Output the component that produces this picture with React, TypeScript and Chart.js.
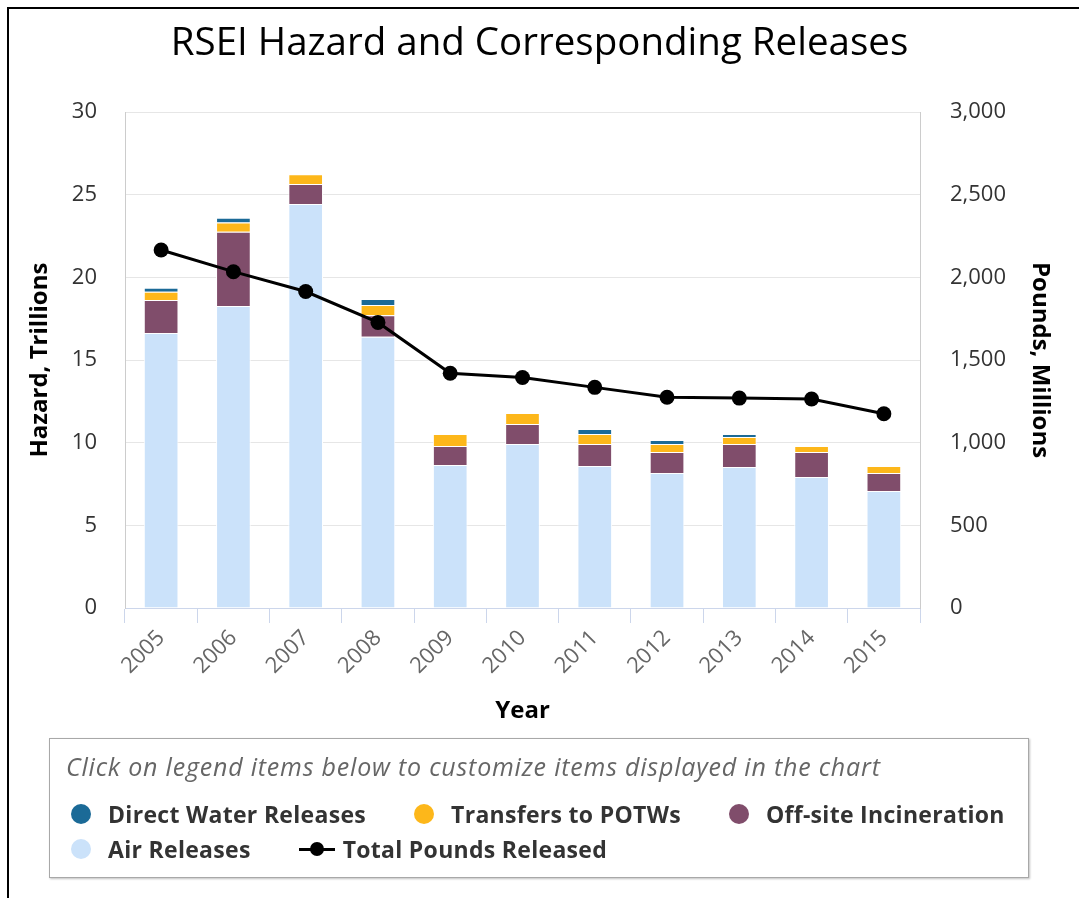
import React, { useEffect, useRef } from 'react';
import { Chart, registerables } from 'chart.js';

Chart.register(...registerables);

const years = ['2005', '2006', '2007', '2008', '2009', '2010', '2011', '2012', '2013', '2014', '2015'];
// Hazard, trillions (stacked, bottom to top)
const airReleases = [16.64, 18.27, 24.44, 16.41, 8.65, 9.92, 8.59, 8.17, 8.53, 7.92, 7.08];
const offsiteIncineration = [1.99, 4.5, 1.21, 1.31, 1.15, 1.21, 1.33, 1.27, 1.39, 1.52, 1.09];
const transfersToPOTWs = [0.5, 0.56, 0.6, 0.61, 0.73, 0.67, 0.61, 0.48, 0.42, 0.36, 0.42];
const directWaterReleases = [0.25, 0.28, 0, 0.36, 0, 0, 0.3, 0.24, 0.19, 0, 0];
// Pounds, millions
const totalPoundsReleased = [2166, 2035, 1915, 1728, 1420, 1395, 1335, 1275, 1270, 1265, 1175];

const hazardTicks = { min: 0, max: 30, step: 5 };
const poundsTicks = { min: 0, max: 3000, step: 500 };

const COLORS = {
  water: '#1b6a97',
  potw: '#fdb71a',
  incineration: '#804d6b',
  air: '#cbe2fa',
  total: '#000000',
};

const FONT = "'Open Sans', 'DejaVu Sans', sans-serif";

const legendRow1 = [
  { label: 'Direct Water Releases', color: COLORS.water, kind: 'dot' },
  { label: 'Transfers to POTWs', color: COLORS.potw, kind: 'dot' },
  { label: 'Off-site Incineration', color: COLORS.incineration, kind: 'dot' },
];
const legendRow2 = [
  { label: 'Air Releases', color: COLORS.air, kind: 'dot' },
  { label: 'Total Pounds Released', color: COLORS.total, kind: 'line' },
];

function LegendItem({ item }: { item: { label: string; color: string; kind: string } }) {
  return (
    <div style={{ display: 'flex', flex: '0 0 auto', alignItems: 'center', marginRight: 48, height: 34 }}>
      {item.kind === 'dot' ? (
        <span
          style={{
            display: 'inline-block',
            width: 20,
            height: 20,
            borderRadius: '50%',
            background: item.color,
            marginRight: 17,
          }}
        />
      ) : (
        <span style={{ position: 'relative', display: 'inline-block', width: 36, height: 20, marginRight: 8 }}>
          <span
            style={{ position: 'absolute', left: 0, right: 0, top: 8.5, height: 3, background: item.color }}
          />
          <span
            style={{
              position: 'absolute',
              left: 11,
              top: 3,
              width: 14,
              height: 14,
              borderRadius: '50%',
              background: item.color,
            }}
          />
        </span>
      )}
      <span
        style={{
          fontFamily: FONT,
          fontWeight: 700,
          fontSize: 23,
          letterSpacing: 0.3,
          color: '#333',
          whiteSpace: 'nowrap',
        }}
      >
        {item.label}
      </span>
    </div>
  );
}

export default function App() {
  const canvasRef = useRef<HTMLCanvasElement | null>(null);

  useEffect(() => {
    document.body.style.margin = '0';
    const canvas = canvasRef.current;
    if (!canvas) return;
    const chart = new Chart(canvas, {
      type: 'bar',
      data: {
        labels: years,
        datasets: [
          {
            type: 'line',
            label: 'Total Pounds Released',
            data: totalPoundsReleased,
            yAxisID: 'y1',
            borderColor: COLORS.total,
            backgroundColor: COLORS.total,
            borderWidth: 3,
            pointRadius: 7.5,
            pointBackgroundColor: COLORS.total,
            pointBorderWidth: 0,
            tension: 0,
            order: 0,
          } as any,
          {
            label: 'Air Releases',
            data: airReleases,
            backgroundColor: COLORS.air,
            borderColor: '#ffffff',
            borderWidth: 1,
            yAxisID: 'y',
            order: 1,
          },
          {
            label: 'Off-site Incineration',
            data: offsiteIncineration,
            backgroundColor: COLORS.incineration,
            borderColor: '#ffffff',
            borderWidth: 1,
            yAxisID: 'y',
            order: 1,
          },
          {
            label: 'Transfers to POTWs',
            data: transfersToPOTWs,
            backgroundColor: COLORS.potw,
            borderColor: '#ffffff',
            borderWidth: 1,
            yAxisID: 'y',
            order: 1,
          },
          {
            label: 'Direct Water Releases',
            data: directWaterReleases,
            backgroundColor: COLORS.water,
            borderColor: '#ffffff',
            borderWidth: 1,
            yAxisID: 'y',
            order: 1,
          },
        ],
      },
      options: {
        animation: false,
        responsive: false,
        devicePixelRatio: 1,
        layout: { padding: { left: 0, right: 0, top: 0, bottom: 170 } },
        datasets: { bar: { barPercentage: 0.48, categoryPercentage: 1 } },
        plugins: {
          legend: { display: false },
          tooltip: { enabled: false },
          title: {
            display: true,
            text: 'RSEI Hazard and Corresponding Releases',
            color: '#000',
            font: { family: FONT, size: 38.5, weight: 'normal' },
            padding: { top: 21, bottom: 45 },
          },
        },
        scales: {
          x: {
            stacked: true,
            offset: true,
            grid: {
              offset: true,
              drawOnChartArea: false,
              drawTicks: true,
              tickLength: 15,
              color: '#ccd6eb',
            },
            border: { color: '#ccd6eb' },
            ticks: {
              minRotation: 45,
              maxRotation: 45,
              padding: 2,
              color: '#666',
              font: { family: FONT, size: 22 },
            },
            title: {
              display: true,
              text: 'Year',
              color: '#000',
              font: { family: FONT, size: 24, weight: 'bold' },
              padding: { top: 0, bottom: 2 },
            },
            afterFit: (s: any) => {
              s.height = 120;
            },
          },
          y: {
            stacked: true,
            position: 'left',
            min: hazardTicks.min,
            max: hazardTicks.max,
            ticks: {
              stepSize: hazardTicks.step,
              padding: 28,
              color: '#333',
              font: { family: FONT, size: 22 },
            },
            grid: { color: '#e6e6e6', drawTicks: false },
            border: { color: '#cccccc' },
            title: {
              display: true,
              text: 'Hazard, Trillions',
              color: '#000',
              font: { family: FONT, size: 24, weight: 'bold' },
              padding: { top: 25.5, bottom: 0 },
            },
            afterFit: (s: any) => {
              s.width = 125;
            },
          },
          y1: {
            position: 'right',
            min: poundsTicks.min,
            max: poundsTicks.max,
            ticks: {
              stepSize: poundsTicks.step,
              padding: 30,
              color: '#333',
              font: { family: FONT, size: 22 },
            },
            grid: { drawOnChartArea: false, drawTicks: false },
            border: { color: '#cccccc' },
            title: {
              display: true,
              text: 'Pounds, Millions',
              color: '#000',
              font: { family: FONT, size: 24, weight: 'bold' },
              padding: { top: 24.5, bottom: 0 },
            },
            afterFit: (s: any) => {
              s.width = 159;
            },
          },
        },
      } as any,
    });
    return () => chart.destroy();
  }, []);

  const rowStyle: React.CSSProperties = {
    position: 'absolute',
    left: 21,
    width: 990,
    display: 'flex',
    flexWrap: 'nowrap',
    alignItems: 'center',
  };

  return (
    <div style={{ position: 'relative', width: 1079, height: 898, overflow: 'hidden', background: '#fff' }}>
      <canvas ref={canvasRef} width={1079} height={898} style={{ position: 'absolute', left: 0, top: 0 }} />
      <div
        style={{
          position: 'absolute',
          left: 7,
          top: 7,
          width: 1100,
          height: 1000,
          borderLeft: '2px solid #000',
          borderTop: '2px solid #000',
          pointerEvents: 'none',
        }}
      />
      <div
        style={{
          position: 'absolute',
          left: 49,
          top: 738,
          width: 978,
          height: 138,
          border: '1px solid #a8a8a8',
          boxShadow: '1px 1px 2px rgba(0,0,0,0.25)',
          background: '#fff',
          boxSizing: 'content-box',
          overflow: 'hidden',
        }}
      >
        <div
          style={{
            position: 'absolute',
            left: 16,
            top: 10,
            fontFamily: FONT,
            fontStyle: 'italic',
            fontSize: 25,
            letterSpacing: 0.8,
            color: '#666',
            whiteSpace: 'nowrap',
          }}
        >
          Click on legend items below to customize items displayed in the chart
        </div>
        <div style={{ ...rowStyle, top: 58 }}>
          {legendRow1.map((it) => (
            <LegendItem key={it.label} item={it} />
          ))}
        </div>
        <div style={{ ...rowStyle, top: 93 }}>
          {legendRow2.map((it) => (
            <LegendItem key={it.label} item={it} />
          ))}
        </div>
      </div>
    </div>
  );
}
